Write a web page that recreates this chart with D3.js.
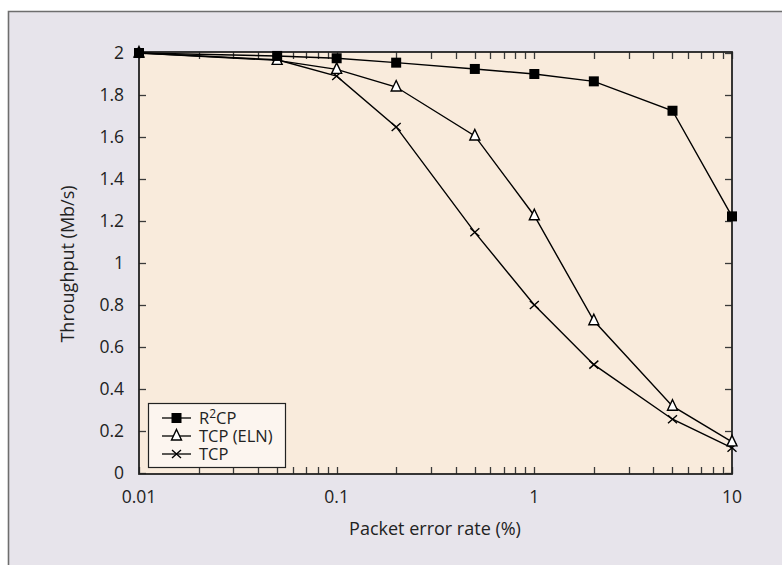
<!DOCTYPE html>
<html><head><meta charset="utf-8">
<script src="https://cdn.jsdelivr.net/npm/d3@7"></script>
<style>body{margin:0;background:#fff}svg{display:block}text{font-family:"Open Sans",sans-serif;fill:#222}</style>
</head><body><svg id="c" width="782" height="565"></svg>
<script>
const xValues = [0.01, 0.05, 0.1, 0.2, 0.5, 1, 2, 5, 10];
const r2cp = [2.0, 1.986, 1.975, 1.954, 1.924, 1.90, 1.865, 1.725, 1.222];
const tcpEln = [2.0, 1.965, 1.922, 1.838, 1.605, 1.225, 0.725, 0.318, 0.148];
const tcp = [2.0, 1.968, 1.89, 1.648, 1.146, 0.80, 0.516, 0.256, 0.12];
const seriesNames = ["R2CP", "TCP (ELN)", "TCP"];
const xTickLabels = ["0.01", "0.1", "1", "10"];
const yTickValues = [0, 0.2, 0.4, 0.6, 0.8, 1, 1.2, 1.4, 1.6, 1.8, 2];

const svg = d3.select("#c");
svg.append("rect").attr("x",8).attr("y",11).attr("width",782).attr("height",565).attr("fill","#e7e4eb");
svg.append("path").attr("d","M8.5,565V11.5H782").attr("fill","none").attr("stroke","#6e6e6e").attr("stroke-width",1.6);

const L=139,R=732,T=52,B=474;
const x = d3.scaleLog().domain([0.01,10]).range([L,R]);
const y = d3.scaleLinear().domain([0,2]).range([B-1,T+1]);

svg.append("rect").attr("x",L).attr("y",T).attr("width",R-L).attr("height",B-T).attr("fill","#f9ebdc");

const xt = x.ticks();
const tk = svg.append("g").attr("stroke","#3a3a3a").attr("stroke-width",1.3);
xt.forEach(v=>{
  const px = Math.round(x(v))+0.5;
  tk.append("line").attr("x1",px).attr("x2",px).attr("y1",B).attr("y2",B-7);
  tk.append("line").attr("x1",px).attr("x2",px).attr("y1",T).attr("y2",T+7);
});
yTickValues.forEach(v=>{
  const py = Math.round(y(v))+0.5;
  tk.append("line").attr("x1",L).attr("x2",L+7).attr("y1",py).attr("y2",py);
  tk.append("line").attr("x1",R).attr("x2",R-7).attr("y1",py).attr("y2",py);
});
svg.append("rect").attr("x",L).attr("y",T).attr("width",R-L).attr("height",B-T).attr("fill","none").attr("stroke","#222").attr("stroke-width",1.8);

xTickLabels.forEach(t=>{
  svg.append("text").attr("x",x(+t)).attr("y",503).attr("text-anchor","middle").attr("font-size",17.5).text(t);
});
yTickValues.forEach(v=>{
  svg.append("text").attr("x",124).attr("y",y(v)+6).attr("text-anchor","end").attr("font-size",17.5).text(d3.format("~g")(v));
});
svg.append("text").attr("x",435).attr("y",535).attr("text-anchor","middle").attr("font-size",18).text("Packet error rate (%)");
svg.append("text").attr("transform","translate(74,264) rotate(-90)").attr("text-anchor","middle").attr("font-size",18).text("Throughput (Mb/s)");

function marker(g, type, cx, cy){
  if(type===0) g.append("rect").attr("x",cx-5).attr("y",cy-5).attr("width",10).attr("height",10).attr("fill","#000");
  else if(type===1) g.append("path").attr("d",`M${cx},${cy-6.5}L${cx+5},${cy+4}L${cx-5},${cy+4}Z`).attr("fill","#fff").attr("stroke","#000").attr("stroke-width",1.4);
  else g.append("path").attr("d",`M${cx-4.5},${cy-4}L${cx+4.5},${cy+4}M${cx-4.5},${cy+4}L${cx+4.5},${cy-4}`).attr("stroke","#000").attr("stroke-width",1.4);
}
const all=[r2cp,tcpEln,tcp];
const line = d3.line().x((d,i)=>x(xValues[i])).y(d=>y(d));
[2,1,0].forEach(s=>{
  svg.append("path").datum(all[s]).attr("d",line).attr("fill","none").attr("stroke","#000").attr("stroke-width",1.4);
});
[2,1,0].forEach(s=>{
  const g=svg.append("g");
  all[s].forEach((v,i)=>marker(g,s,x(xValues[i]),y(v)));
});

const lg = svg.append("g");
lg.append("rect").attr("x",148.5).attr("y",403.5).attr("width",137).attr("height",64).attr("fill","#fcf5ef").attr("stroke","#222").attr("stroke-width",1.2);
const rows=[418,436,454];
seriesNames.forEach((n,i)=>{
  lg.append("line").attr("x1",162).attr("x2",191).attr("y1",rows[i]).attr("y2",rows[i]).attr("stroke","#000").attr("stroke-width",1.3);
  marker(lg,i,176.5,rows[i]);
  const t=lg.append("text").attr("x",199).attr("y",rows[i]+6).attr("font-size",16.5);
  if(i===0){ t.append("tspan").text("R"); t.append("tspan").attr("dy",-6).attr("font-size",12).text("2"); t.append("tspan").attr("dy",6).text("CP"); }
  else t.text(n);
});
</script></body></html>
